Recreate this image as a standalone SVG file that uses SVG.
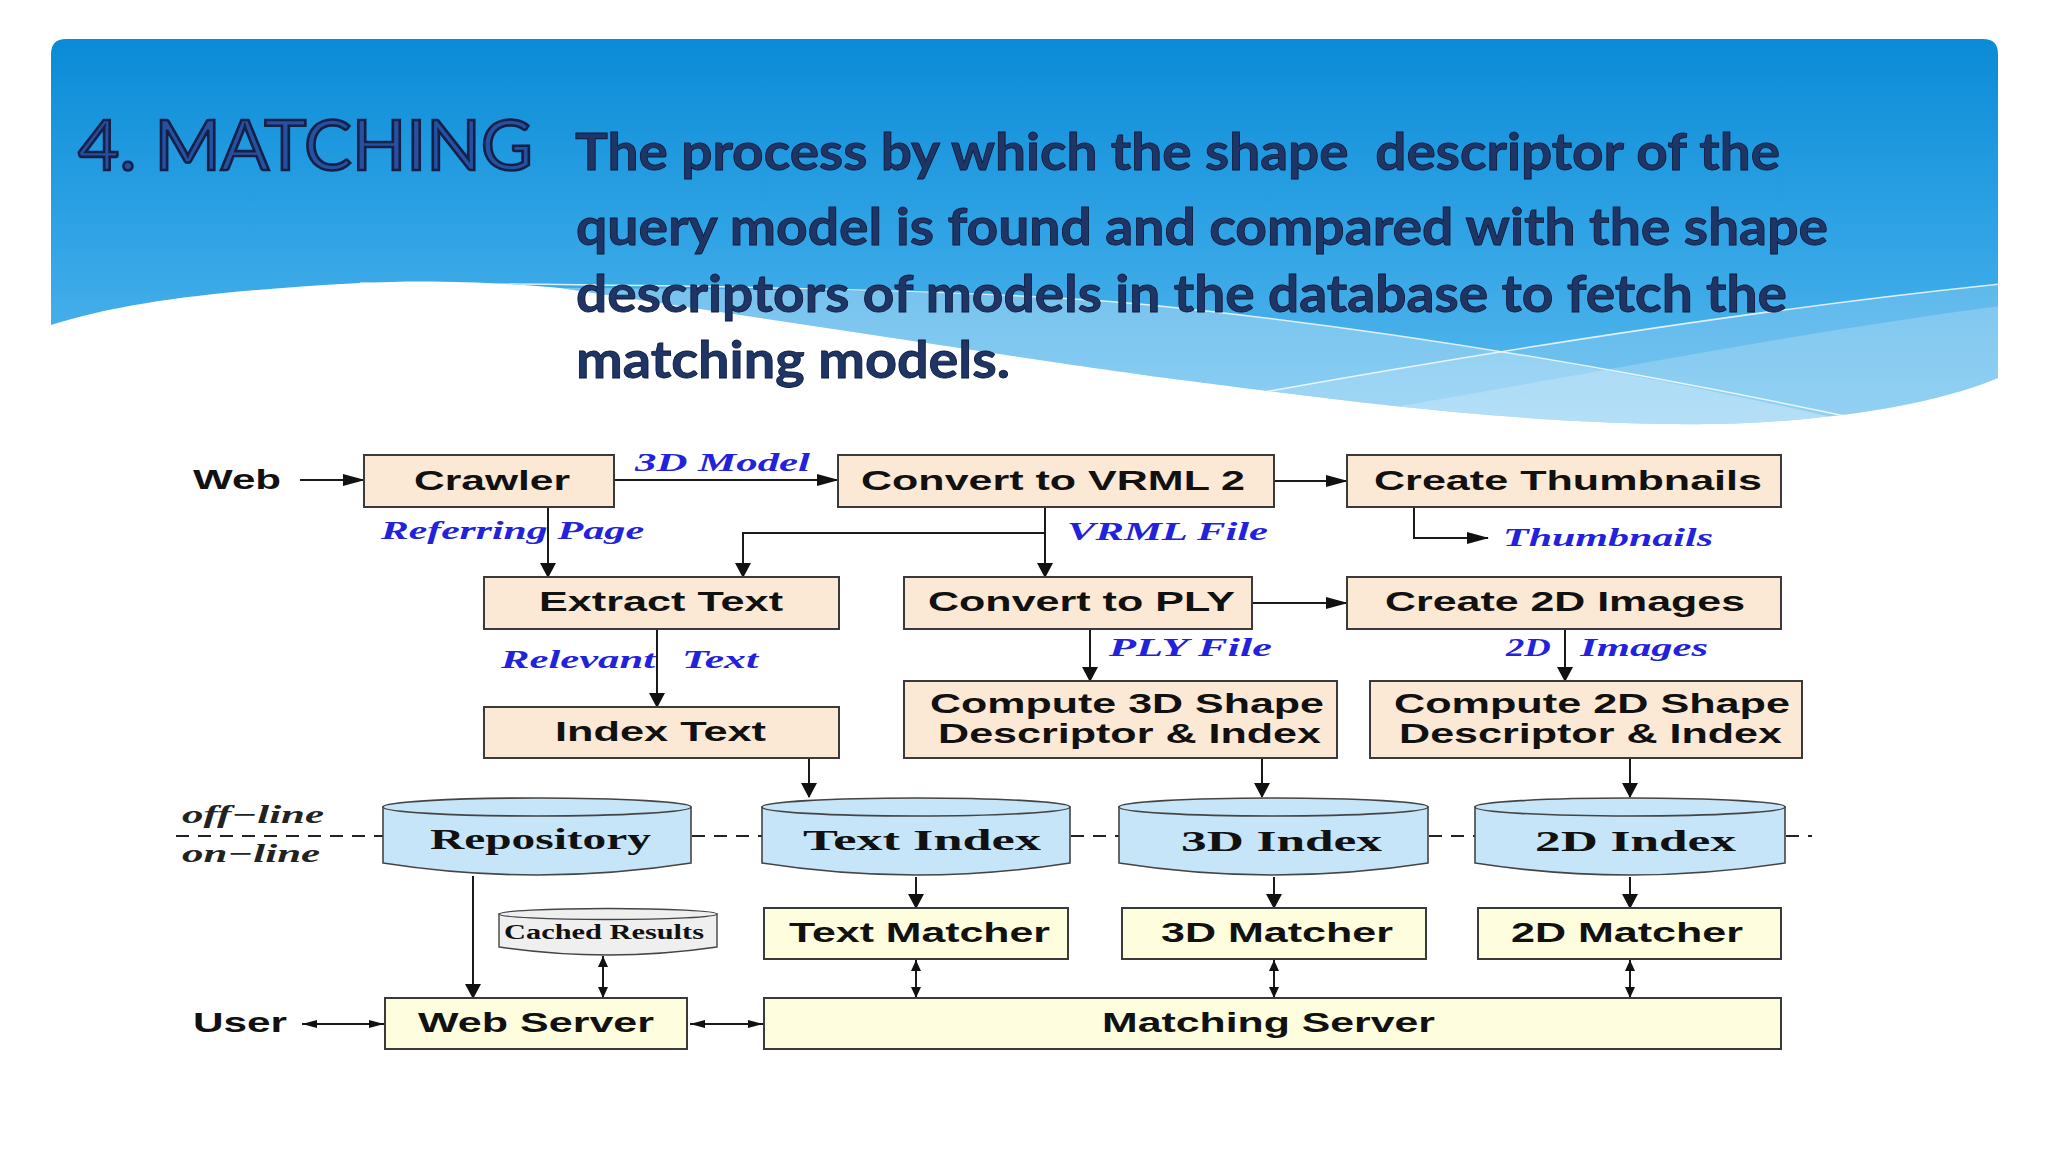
<svg xmlns="http://www.w3.org/2000/svg" width="2048" height="1152" viewBox="0 0 2048 1152">
<defs>
<linearGradient id="bg" x1="0" y1="39" x2="0" y2="425" gradientUnits="userSpaceOnUse">
<stop offset="0" stop-color="#0a8bd6"/>
<stop offset="0.5" stop-color="#2fa3e5"/>
<stop offset="1" stop-color="#5cbaee"/>
</linearGradient>
<clipPath id="bclip"><path d="M51,54 Q51,39 66,39 L1983,39 Q1998,39 1998,54 L1998,378 C1950,398 1860,420 1720,424 C1560,426 1400,408 1260,390 C1180,380 1120,372 1060,363 L560,288 C480,281 420,280 360,283 C230,290 130,300 51,325 Z"/></clipPath>
<marker id="ah" markerUnits="userSpaceOnUse" markerWidth="22" markerHeight="12" refX="21" refY="6" orient="auto"><path d="M0,0 L22,6 L0,12 Z" fill="#111"/></marker>
<marker id="av" markerUnits="userSpaceOnUse" markerWidth="15" markerHeight="16" refX="14" refY="8" orient="auto"><path d="M0,0 L15,8 L0,16 Z" fill="#111"/></marker>
<marker id="avs" markerUnits="userSpaceOnUse" markerWidth="11" markerHeight="10" refX="11" refY="5" orient="auto-start-reverse"><path d="M0,0 L11,5 L0,10 Z" fill="#111"/></marker>
<marker id="ahs" markerUnits="userSpaceOnUse" markerWidth="15" markerHeight="8" refX="15" refY="4" orient="auto-start-reverse"><path d="M0,0 L15,4 L0,8 Z" fill="#111"/></marker>
</defs>
<style>
.box{fill:#fce9d5;stroke:#3a3a3a;stroke-width:2}
.ybox{fill:#fefedf;stroke:#3a3a3a;stroke-width:2}
.cyl{fill:#c6e5f8;stroke:#444;stroke-width:1.6}
.ccyl{fill:#efefef;stroke:#444;stroke-width:1.4}
.t{font-family:"Liberation Sans",Arial,sans-serif;font-weight:bold;font-size:27px;fill:#111;text-anchor:middle}
.lab{font-family:"Liberation Serif","Times New Roman",serif;font-weight:bold;font-style:italic;font-size:25px;fill:#2222dd}
.ol{font-family:"Liberation Serif","Times New Roman",serif;font-weight:bold;font-style:italic;font-size:25px;fill:#222;text-anchor:middle}
.ct{font-family:"Liberation Serif","Times New Roman",serif;font-weight:bold;font-size:30px;fill:#111;text-anchor:middle}
.ln{fill:none;stroke:#1a1a1a;stroke-width:2}
.dash{fill:none;stroke:#222;stroke-width:2;stroke-dasharray:13 9}
.hd{font-family:Lato,"Open Sans",sans-serif;font-weight:bold;font-size:52px;fill:#1f3566;stroke:#0d1838;stroke-width:0.8}
</style>
<rect x="0" y="0" width="2048" height="1152" fill="#ffffff"/>
<g id="banner">
<path d="M51,54 Q51,39 66,39 L1983,39 Q1998,39 1998,54 L1998,378 C1950,398 1860,420 1720,424 C1560,426 1400,408 1260,390 C1180,380 1120,372 1060,363 L560,288 C480,281 420,280 360,283 C230,290 130,300 51,325 Z" fill="url(#bg)"/>
<g clip-path="url(#bclip)">
<path d="M560,288 C800,289 1000,291 1150,305 C1400,330 1650,375 1845,420 L1845,440 L500,440 Z" fill="#ffffff" opacity="0.3"/>
<path d="M1264,392 C1500,350 1750,310 2000,284 L2000,440 L1200,440 Z" fill="#ffffff" opacity="0.18"/>
<path d="M1400,406 C1600,372 1800,332 2000,306 L2000,440 L1380,440 Z" fill="#ffffff" opacity="0.2"/>
<path d="M360,283 C700,285 1000,290 1150,305 C1400,330 1650,375 1845,416" fill="none" stroke="#ffffff" stroke-width="1.5" opacity="0.8"/>
<path d="M1264,392 C1500,350 1750,310 2000,284" fill="none" stroke="#ffffff" stroke-width="1.5" opacity="0.8"/>
</g>
</g>
<g id="title">
<text x="78" y="170" textLength="455" lengthAdjust="spacingAndGlyphs" style="font-family:Lato,'Open Sans',sans-serif;font-size:70px;fill:#27509e;stroke:#14204a;stroke-width:2.6">4. MATCHING</text>
<text class="hd" x="575" y="170" textLength="1205" lengthAdjust="spacingAndGlyphs" xml:space="preserve">The process by which the shape  descriptor of the</text>
<text class="hd" x="576" y="245" textLength="1252" lengthAdjust="spacingAndGlyphs">query model is found and compared with the shape</text>
<text class="hd" x="576" y="312" textLength="1211" lengthAdjust="spacingAndGlyphs">descriptors of models in the database to fetch the</text>
<text class="hd" x="576" y="378" textLength="434" lengthAdjust="spacingAndGlyphs">matching models.</text>
</g>
<g id="connectors">
<path class="ln" d="M300,480 H364" marker-end="url(#ah)"/>
<path class="ln" d="M614,480 H838" marker-end="url(#ah)"/>
<path class="ln" d="M1274,481 H1347" marker-end="url(#ah)"/>
<path class="ln" d="M1414,507 V538 H1488" marker-end="url(#ah)"/>
<path class="ln" d="M548,507 V577" marker-end="url(#av)"/>
<path class="ln" d="M1045,507 V577" marker-end="url(#av)"/>
<path class="ln" d="M1045,533 H743 V577" marker-end="url(#av)"/>
<path class="ln" d="M1252,603 H1347" marker-end="url(#ah)"/>
<path class="ln" d="M657,629 V707" marker-end="url(#av)"/>
<path class="ln" d="M1090,629 V681" marker-end="url(#av)"/>
<path class="ln" d="M1565,629 V681" marker-end="url(#av)"/>
<path class="ln" d="M809,758 V797" marker-end="url(#av)"/>
<path class="ln" d="M1262,758 V797" marker-end="url(#av)"/>
<path class="ln" d="M1630,758 V797" marker-end="url(#av)"/>
<path class="ln" d="M473,876 V998" marker-end="url(#av)"/>
<path class="ln" d="M603,956 V998" marker-start="url(#avs)" marker-end="url(#avs)"/>
<path class="ln" d="M916,877 V908" marker-end="url(#av)"/>
<path class="ln" d="M1274,877 V908" marker-end="url(#av)"/>
<path class="ln" d="M1630,877 V908" marker-end="url(#av)"/>
<path class="ln" d="M916,960 V998" marker-start="url(#avs)" marker-end="url(#avs)"/>
<path class="ln" d="M1274,960 V998" marker-start="url(#avs)" marker-end="url(#avs)"/>
<path class="ln" d="M1630,960 V998" marker-start="url(#avs)" marker-end="url(#avs)"/>
<path class="ln" d="M302,1024 H384" marker-start="url(#ahs)" marker-end="url(#ahs)"/>
<path class="ln" d="M690,1024 H763" marker-start="url(#ahs)" marker-end="url(#ahs)"/>
<path class="dash" d="M176,836 H383"/>
<path class="dash" d="M692,836 H762"/>
<path class="dash" d="M1071,836 H1119"/>
<path class="dash" d="M1429,836 H1475"/>
<path class="dash" d="M1786,836 H1812"/>
</g>
<g id="labels">
<text class="lab" transform="translate(635 0) scale(1.4 1)" x="0" y="471" textLength="125" lengthAdjust="spacingAndGlyphs">3D Model</text>
<text class="lab" transform="translate(381 0) scale(1.4 1)" y="539"><tspan x="0" textLength="119" lengthAdjust="spacingAndGlyphs">Referring</tspan> <tspan x="126" textLength="62" lengthAdjust="spacingAndGlyphs">Page</tspan></text>
<text class="lab" transform="translate(1067 0) scale(1.4 1)" x="0" y="540" textLength="143.6" lengthAdjust="spacingAndGlyphs">VRML File</text>
<text class="lab" transform="translate(1503 0) scale(1.4 1)" x="0" y="546" textLength="150" lengthAdjust="spacingAndGlyphs">Thumbnails</text>
<text class="lab" transform="translate(501 0) scale(1.4 1)" y="668"><tspan x="0" textLength="110" lengthAdjust="spacingAndGlyphs">Relevant</tspan> <tspan x="129.3" textLength="54.3" lengthAdjust="spacingAndGlyphs">Text</tspan></text>
<text class="lab" transform="translate(1109 0) scale(1.4 1)" x="0" y="656" textLength="116.4" lengthAdjust="spacingAndGlyphs">PLY File</text>
<text class="lab" transform="translate(1506 0) scale(1.4 1)" y="656"><tspan x="0" textLength="32" lengthAdjust="spacingAndGlyphs">2D</tspan> <tspan x="53" textLength="91.4" lengthAdjust="spacingAndGlyphs">Images</tspan></text>
<text class="ol" transform="translate(253 0) scale(1.4 1)" x="0" y="823" textLength="101.4" lengthAdjust="spacingAndGlyphs">off−line</text>
<text class="ol" transform="translate(251 0) scale(1.4 1)" x="0" y="862" textLength="98.6" lengthAdjust="spacingAndGlyphs">on−line</text>
<text class="t" transform="translate(237 0) scale(1.5 1)" x="0" y="489" textLength="58.7" lengthAdjust="spacingAndGlyphs">Web</text>
<text class="t" transform="translate(240 0) scale(1.5 1)" x="0" y="1032" textLength="62.7" lengthAdjust="spacingAndGlyphs">User</text>
</g>
<g id="crawler"><rect class="box" x="364" y="455" width="250" height="52"/><text class="t" transform="translate(492 0) scale(1.5 1)" x="0" y="490" textLength="104" lengthAdjust="spacingAndGlyphs">Crawler</text></g>
<g id="vrml"><rect class="box" x="838" y="455" width="436" height="52"/><text class="t" transform="translate(1053 0) scale(1.5 1)" x="0" y="490" textLength="256" lengthAdjust="spacingAndGlyphs">Convert to VRML 2</text></g>
<g id="thumbs"><rect class="box" x="1347" y="455" width="434" height="52"/><text class="t" transform="translate(1568 0) scale(1.5 1)" x="0" y="490" textLength="258.7" lengthAdjust="spacingAndGlyphs">Create Thumbnails</text></g>
<g id="extract"><rect class="box" x="484" y="577" width="355" height="52"/><text class="t" transform="translate(661 0) scale(1.5 1)" x="0" y="611" textLength="162.7" lengthAdjust="spacingAndGlyphs">Extract Text</text></g>
<g id="ply"><rect class="box" x="904" y="577" width="348" height="52"/><text class="t" transform="translate(1081.5 0) scale(1.5 1)" x="0" y="611" textLength="204.7" lengthAdjust="spacingAndGlyphs">Convert to PLY</text></g>
<g id="images2d"><rect class="box" x="1347" y="577" width="434" height="52"/><text class="t" transform="translate(1565 0) scale(1.5 1)" x="0" y="611" textLength="240" lengthAdjust="spacingAndGlyphs">Create 2D Images</text></g>
<g id="indextext"><rect class="box" x="484" y="707" width="355" height="51"/><text class="t" transform="translate(660.5 0) scale(1.5 1)" x="0" y="741" textLength="140.7" lengthAdjust="spacingAndGlyphs">Index Text</text></g>
<g id="compute3d"><rect class="box" x="904" y="681" width="433" height="77"/><text class="t" transform="translate(1127 0) scale(1.5 1)" x="0" y="713" textLength="262.7" lengthAdjust="spacingAndGlyphs">Compute 3D Shape</text><text class="t" transform="translate(1129.5 0) scale(1.5 1)" x="0" y="743" textLength="255.3" lengthAdjust="spacingAndGlyphs">Descriptor &amp; Index</text></g>
<g id="compute2d"><rect class="box" x="1370" y="681" width="432" height="77"/><text class="t" transform="translate(1592 0) scale(1.5 1)" x="0" y="713" textLength="264" lengthAdjust="spacingAndGlyphs">Compute 2D Shape</text><text class="t" transform="translate(1590.5 0) scale(1.5 1)" x="0" y="743" textLength="255.3" lengthAdjust="spacingAndGlyphs">Descriptor &amp; Index</text></g>
<g id="repository"><path class="cyl" d="M383,807 V863 Q537,887 691,863 V807 Z"/><ellipse class="cyl" cx="537" cy="807" rx="154" ry="9"/><text class="ct" transform="translate(540.5 0) scale(1.55 1)" x="0" y="849" textLength="142.6" lengthAdjust="spacingAndGlyphs">Repository</text></g>
<g id="textindex"><path class="cyl" d="M762,807 V863 Q916,887 1070,863 V807 Z"/><ellipse class="cyl" cx="916" cy="807" rx="154" ry="9"/><text class="ct" transform="translate(922 0) scale(1.55 1)" x="0" y="850" textLength="153.5" lengthAdjust="spacingAndGlyphs">Text Index</text></g>
<g id="index3d"><path class="cyl" d="M1119,807 V863 Q1273,887 1428,863 V807 Z"/><ellipse class="cyl" cx="1273.5" cy="807" rx="154.5" ry="9"/><text class="ct" transform="translate(1281.5 0) scale(1.55 1)" x="0" y="851" textLength="129.7" lengthAdjust="spacingAndGlyphs">3D Index</text></g>
<g id="index2d"><path class="cyl" d="M1475,807 V863 Q1630,887 1785,863 V807 Z"/><ellipse class="cyl" cx="1630" cy="807" rx="155" ry="9"/><text class="ct" transform="translate(1635.5 0) scale(1.55 1)" x="0" y="851" textLength="129.7" lengthAdjust="spacingAndGlyphs">2D Index</text></g>
<g id="cached"><path class="ccyl" d="M499,914 V947 Q608,963 717,947 V914 Z"/><ellipse class="ccyl" cx="608" cy="914" rx="109" ry="5.5"/><text class="ct" transform="translate(604 0) scale(1.55 1)" x="0" y="939" textLength="129" lengthAdjust="spacingAndGlyphs" style="font-size:20px">Cached Results</text></g>
<g id="textmatcher"><rect class="ybox" x="764" y="908" width="304" height="51"/><text class="t" transform="translate(919.5 0) scale(1.5 1)" x="0" y="942" textLength="174" lengthAdjust="spacingAndGlyphs">Text Matcher</text></g>
<g id="matcher3d"><rect class="ybox" x="1122" y="908" width="304" height="51"/><text class="t" transform="translate(1277 0) scale(1.5 1)" x="0" y="942" textLength="154.7" lengthAdjust="spacingAndGlyphs">3D Matcher</text></g>
<g id="matcher2d"><rect class="ybox" x="1478" y="908" width="303" height="51"/><text class="t" transform="translate(1627 0) scale(1.5 1)" x="0" y="942" textLength="154.7" lengthAdjust="spacingAndGlyphs">2D Matcher</text></g>
<g id="webserver"><rect class="ybox" x="385" y="998" width="302" height="51"/><text class="t" transform="translate(536 0) scale(1.5 1)" x="0" y="1032" textLength="157.3" lengthAdjust="spacingAndGlyphs">Web Server</text></g>
<g id="matchingserver"><rect class="ybox" x="764" y="998" width="1017" height="51"/><text class="t" transform="translate(1268.5 0) scale(1.5 1)" x="0" y="1032" textLength="222" lengthAdjust="spacingAndGlyphs">Matching Server</text></g>
</svg>
